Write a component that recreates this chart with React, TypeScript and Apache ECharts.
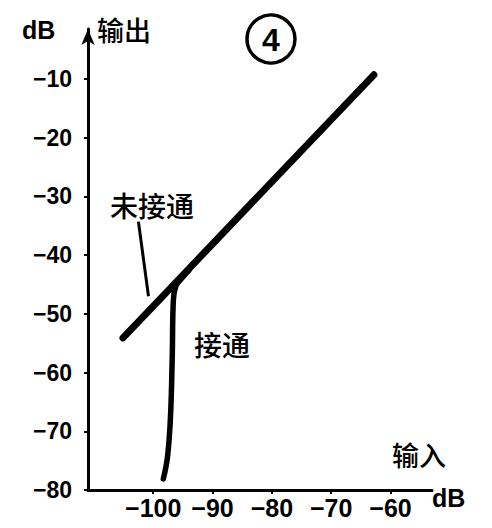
import React, { useEffect, useRef } from "react";
import * as echarts from "echarts";

// Tick values and labels
const xTicks = [-100, -90, -80, -70, -60];
const xTickLabels = ["−100", "−90", "−80", "−70", "−60"];
const yTicks = [-10, -20, -30, -40, -50, -60, -70, -80];
const yTickLabels = ["−10", "−20", "−30", "−40", "−50", "−60", "−70", "−80"];

// 未接通 (not connected): straight line [input dB, output dB]
const unconnectedLine = [
  [-105.1, -54.1],
  [-95.0, -43.4],
  [-62.8, -9.3],
];

// 接通 (connected): curve rising from bottom and merging into the line
const connectedCurve = [
  [-98.3, -78.1],
  [-97.6, -74.4],
  [-97.1, -67.7],
  [-96.8, -57.5],
  [-96.6, -47.6],
  [-96.2, -45.3],
  [-95.4, -44.2],
  [-94.0, -42.6],
];

// leader line from label 未接通 to the line
const leaderLine = [
  [-102.5, -34.3],
  [-100.8, -47.0],
];

const FONT = "'Liberation Sans', 'Noto Sans', sans-serif";
const CJK = "'Noto Sans CJK SC', sans-serif";

export default function App() {
  const ref = useRef<HTMLDivElement>(null);
  useEffect(() => {
    if (!ref.current) return;
    const chart = echarts.init(ref.current, undefined, { renderer: "svg" });
    chart.setOption({
      animation: false,
      backgroundColor: "#ffffff",
      grid: { left: 88, right: 60, top: 29, bottom: 38 },
      xAxis: {
        type: "value",
        min: -111,
        max: -53,
        axisLine: { show: true, lineStyle: { color: "#000", width: 3 } },
        axisTick: {
          show: true,
          customValues: xTicks,
          length: 4,
          lineStyle: { color: "#000", width: 2 },
        },
        splitLine: { show: false },
        axisLabel: {
          customValues: xTicks,
          margin: 5,
          color: "#000",
          fontSize: 25,
          fontWeight: "bold",
          fontFamily: FONT,
          formatter: (v: number) => {
            const i = xTicks.indexOf(v);
            return i >= 0 ? xTickLabels[i] : "";
          },
        },
      },
      yAxis: {
        type: "value",
        min: -80,
        max: -1.5,
        axisLine: {
          show: true,
          symbol: ["none", "arrow"],
          symbolSize: [10, 16],
          lineStyle: { color: "#000", width: 3 },
        },
        axisTick: {
          show: true,
          customValues: yTicks,
          length: 4,
          lineStyle: { color: "#000", width: 2 },
        },
        splitLine: { show: false },
        axisLabel: {
          customValues: yTicks,
          margin: 16,
          color: "#000",
          fontSize: 23,
          fontWeight: "bold",
          fontFamily: FONT,
          formatter: (v: number) => {
            const i = yTicks.indexOf(v);
            return i >= 0 ? yTickLabels[i] : "";
          },
        },
      },
      series: [
        {
          name: "未接通",
          type: "line",
          data: unconnectedLine,
          showSymbol: false,
          lineStyle: { color: "#000", width: 7, cap: "round", join: "round" },
        },
        {
          name: "接通",
          type: "line",
          data: connectedCurve,
          smooth: 0.4,
          showSymbol: false,
          lineStyle: { color: "#000", width: 5.5, cap: "round" },
        },
        {
          name: "leader",
          type: "line",
          data: leaderLine,
          showSymbol: false,
          lineStyle: { color: "#000", width: 3 },
        },
      ],
      graphic: [
        { type: "text", left: 22, top: 17, style: { text: "dB", fontSize: 25, fontWeight: "bold", fontFamily: FONT, fill: "#000" } },
        { type: "text", left: 97, top: 16, style: { text: "输出", fontSize: 27, fontWeight: 500, fontFamily: CJK, fill: "#000" } },
        { type: "circle", shape: { cx: 271, cy: 39, r: 24 }, style: { fill: "none", stroke: "#000", lineWidth: 3.5 } },
        {
          type: "text",
          x: 271,
          y: 40,
          style: { text: "4", fontSize: 32, fontWeight: "bold", fontFamily: FONT, fill: "#000", align: "center", verticalAlign: "middle" },
        },
        { type: "text", left: 110, top: 191, style: { text: "未接通", fontSize: 28, fontWeight: 500, fontFamily: CJK, fill: "#000" } },
        { type: "text", left: 194, top: 330, style: { text: "接通", fontSize: 28, fontWeight: 500, fontFamily: CJK, fill: "#000" } },
        { type: "text", left: 392, top: 441, style: { text: "输入", fontSize: 27, fontWeight: 500, fontFamily: CJK, fill: "#000" } },
        { type: "text", left: 432, top: 485, style: { text: "dB", fontSize: 25, fontWeight: "bold", fontFamily: FONT, fill: "#000" } },
      ],
    });
    return () => chart.dispose();
  }, []);
  return (
    <div
      ref={ref}
      style={{ position: "fixed", left: 0, top: 0, width: 492, height: 528, background: "#fff" }}
    />
  );
}
